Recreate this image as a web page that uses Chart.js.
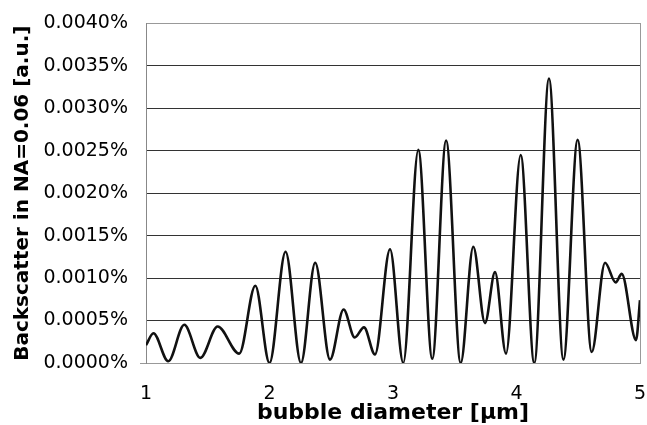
<!DOCTYPE html>
<html>
<head>
<meta charset="utf-8">
<script src="https://cdn.jsdelivr.net/npm/chart.js@4"></script>
<style>
	html, body { margin: 0; padding: 0; background: #fff; }
	#wrap { width: 647px; height: 425px; }
</style>
</head>
<body>
<div id="wrap"><canvas id="myChart" width="647" height="425"></canvas></div>
<script>
// bubble diameter in µm
var diameter = [1.0, 1.06, 1.18, 1.31, 1.44, 1.58, 1.755, 1.885, 2.0, 2.13,
	2.255, 2.37, 2.49, 2.6, 2.69, 2.765, 2.854, 2.976, 3.083, 3.205,
	3.318, 3.43, 3.548, 3.65, 3.745, 3.826, 3.915, 4.034, 4.144, 4.263,
	4.38, 4.495, 4.609, 4.717, 4.803, 4.852, 4.968, 5.0]
// backscatter in NA=0.06, in percent
var backscatter = [0.00021, 0.00035, 0.00002, 0.00045, 0.00006, 0.00043, 0.00011, 0.00091, 0.0, 0.00131,
	0.0, 0.00118, 0.00004, 0.00063, 0.0003, 0.00042, 0.0001, 0.00134, 0.0, 0.00251,
	0.00005, 0.00262, 0.0, 0.00137, 0.00047, 0.00107, 0.00011, 0.00245, 0.0, 0.00335,
	0.00004, 0.00263, 0.00013, 0.00118, 0.00095, 0.00105, 0.00027, 0.00074]

var xTicks = [1, 2, 3, 4, 5]
var yTicks = [0, 0.0005, 0.001, 0.0015, 0.002, 0.0025, 0.003, 0.0035, 0.004]

var points = diameter.map((d, i) => ({ x: d, y: backscatter[i] }))

var ctx = document.getElementById('myChart').getContext('2d')

var myChart = new Chart(ctx, {
	type: 'line',
	data: {
		datasets: [{
			data: points,
			borderColor: '#111',
			borderWidth: 2.6,
			pointRadius: 0,
			fill: false,
			cubicInterpolationMode: 'monotone'
		}]
	},
	options: {
		responsive: false,
		animation: false,
		layout: {
			padding: { top: 23, right: 7, bottom: 0, left: 0 }
		},
		plugins: {
			legend: { display: false },
			tooltip: { enabled: false }
		},
		scales: {
			x: {
				type: 'linear',
				min: 1,
				max: 5,
				afterBuildTicks: (scale) => {
					scale.ticks = xTicks.map(v => ({ value: v }))
				},
				afterFit: (scale) => {
					scale.height = 62
					// keep the tick padding from widening the side margins
					scale.paddingLeft = 6
					scale.paddingRight = 6
				},
				grid: { display: false, drawTicks: false },
				border: { display: true, color: '#999' },
				ticks: {
					color: '#000',
					padding: 20,
					maxRotation: 0,
					font: { family: 'DejaVu Sans', size: 19 }
				},
				title: {
					display: true,
					text: 'bubble diameter [µm]',
					color: '#000',
					padding: { top: 0, bottom: 0 },
					font: { family: 'DejaVu Sans', size: 22, weight: 'bold', lineHeight: 1.1 }
				}
			},
			y: {
				min: 0,
				max: 0.004,
				afterBuildTicks: (scale) => {
					scale.ticks = yTicks.map(v => ({ value: v }))
				},
				afterFit: (scale) => {
					scale.width = 146
				},
				grid: {
					color: (c) => (c.tick && (c.tick.value === 0 || c.tick.value === 0.004)) ? '#999' : '#333',
					tickColor: (c) => (c.tick && c.tick.value === 0) ? '#999' : 'rgba(0,0,0,0)',
					tickLength: 6,
					lineWidth: 1
				},
				border: { display: true, color: '#888' },
				ticks: {
					color: '#000',
					padding: 12,
					font: { family: 'DejaVu Sans', size: 19 },
					callback: (v) => v.toFixed(4) + '%'
				},
				title: {
					display: true,
					text: 'Backscatter in NA=0.06 [a.u.]',
					color: '#000',
					padding: { top: 11, bottom: 0 },
					font: { family: 'DejaVu Sans', size: 20, weight: 'bold', lineHeight: 1.2 }
				}
			},
			yRight: {
				position: 'right',
				min: 0,
				max: 0.004,
				afterFit: (scale) => {
					scale.width = 0
				},
				grid: { display: false, drawTicks: false },
				border: { display: true, color: '#999' },
				ticks: { display: false }
			}
		}
	}
})
</script>
</body>
</html>
